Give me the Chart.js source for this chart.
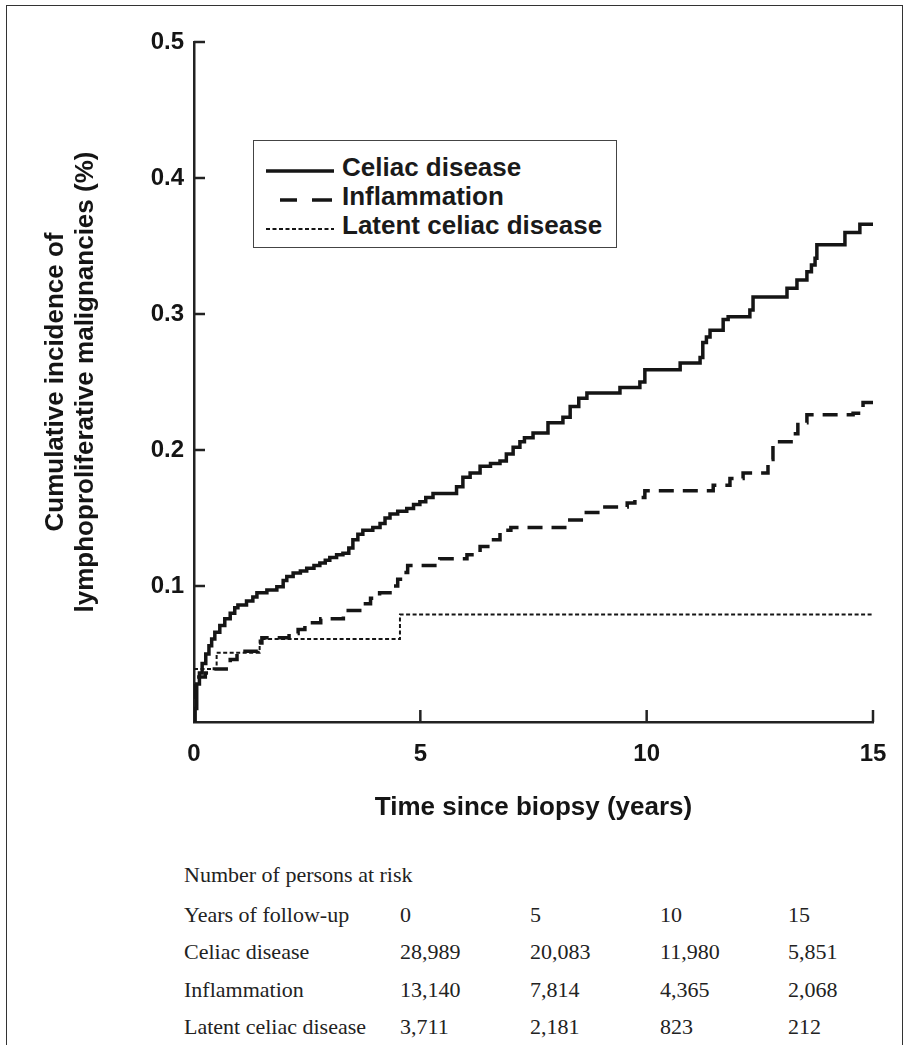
<!DOCTYPE html>
<html>
<head>
<meta charset="utf-8">
<script src="https://cdn.jsdelivr.net/npm/chart.js@4.4.1/dist/chart.umd.min.js"></script>
<style>
  html, body { margin: 0; padding: 0; background: #fff; }
  body { width: 910px; height: 1045px; position: relative; overflow: hidden; }
  #frame { position: absolute; left: 6px; top: 5px; width: 897px; height: 1100px; border: 1.5px solid #333; box-sizing: border-box; }
  #chart { position: absolute; left: 0; top: 0; }
  #legend { position: absolute; left: 253px; top: 140px; width: 364px; height: 108px; border: 1.5px solid #444; box-sizing: border-box; background: #fff; }
  .lg { position: absolute; left: 88px; font: bold 26px "Liberation Sans", Arial, sans-serif; color: #1a1a1a; line-height: 30px; white-space: nowrap; }
  .ls { position: absolute; left: 12px; }
  .tb { position: absolute; font: 22px "Liberation Serif", "Times New Roman", serif; color: #222; line-height: 26px; white-space: nowrap; }
</style>
</head>
<body>
<div id="frame"></div>
<canvas id="chart" width="910" height="850"></canvas>
<div id="legend"></div>
<div id="table"></div>
<script>
// ---- Data ----
const seriesNames = ['Celiac disease', 'Inflammation', 'Latent celiac disease'];

const celiacTime = [0, 0.02, 0.06, 0.12, 0.18, 0.26, 0.33, 0.39, 0.46, 0.57, 0.68, 0.80, 0.90, 0.97, 1.16, 1.30, 1.39, 1.61, 1.83, 1.97, 2.05, 2.19, 2.35, 2.49, 2.65, 2.78, 2.90, 3.00, 3.15, 3.29, 3.42, 3.51, 3.62, 3.73, 3.95, 4.11, 4.22, 4.33, 4.50, 4.70, 4.85, 4.99, 5.12, 5.28, 5.80, 5.94, 6.10, 6.32, 6.55, 6.76, 6.90, 7.05, 7.20, 7.30, 7.49, 7.82, 8.15, 8.31, 8.50, 8.68, 9.41, 9.85, 9.96, 10.74, 11.18, 11.24, 11.32, 11.40, 11.69, 11.80, 12.28, 12.35, 13.10, 13.32, 13.54, 13.64, 13.72, 13.76, 14.38, 14.71, 15.0];
const celiacIncidence = [0, 0.010, 0.028, 0.036, 0.043, 0.050, 0.056, 0.061, 0.066, 0.071, 0.076, 0.080, 0.084, 0.086, 0.089, 0.092, 0.095, 0.097, 0.0995, 0.104, 0.107, 0.1095, 0.111, 0.113, 0.115, 0.117, 0.119, 0.121, 0.123, 0.124, 0.128, 0.134, 0.138, 0.141, 0.143, 0.146, 0.150, 0.153, 0.155, 0.157, 0.160, 0.162, 0.165, 0.168, 0.173, 0.180, 0.183, 0.188, 0.190, 0.192, 0.197, 0.202, 0.206, 0.209, 0.2125, 0.220, 0.224, 0.232, 0.238, 0.242, 0.246, 0.250, 0.259, 0.264, 0.268, 0.279, 0.283, 0.288, 0.296, 0.298, 0.303, 0.3125, 0.319, 0.325, 0.331, 0.336, 0.341, 0.351, 0.360, 0.366, 0.366];

const inflamTime = [0, 0.02, 0.25, 0.45, 0.80, 0.95, 1.41, 1.50, 2.10, 2.30, 2.45, 2.80, 3.30, 3.73, 3.90, 4.10, 4.33, 4.50, 4.60, 4.72, 5.43, 6.03, 6.32, 6.54, 6.76, 7.00, 8.24, 8.60, 8.97, 9.57, 9.74, 9.96, 11.47, 11.84, 12.13, 12.68, 12.79, 13.23, 13.34, 13.54, 14.56, 14.78, 15.0];
const inflamIncidence = [0, 0.033, 0.036, 0.039, 0.046, 0.052, 0.058, 0.062, 0.065, 0.068, 0.073, 0.076, 0.082, 0.087, 0.091, 0.095, 0.100, 0.105, 0.110, 0.115, 0.120, 0.123, 0.129, 0.134, 0.141, 0.143, 0.1485, 0.154, 0.158, 0.161, 0.165, 0.170, 0.174, 0.179, 0.183, 0.193, 0.206, 0.212, 0.220, 0.226, 0.227, 0.235, 0.235];

const latentTime = [0, 0.50, 1.45, 4.55, 15.0];
const latentIncidence = [0.039, 0.051, 0.061, 0.079, 0.079];

const xTicks = [0, 5, 10, 15];
const yTicks = [0.1, 0.2, 0.3, 0.4, 0.5];

// Number at risk table
const tableTitle = 'Number of persons at risk';
const tableHeader = 'Years of follow-up';
const followUpYears = ['0', '5', '10', '15'];
const atRiskCeliac = ['28,989', '20,083', '11,980', '5,851'];
const atRiskInflammation = ['13,140', '7,814', '4,365', '2,068'];
const atRiskLatent = ['3,711', '2,181', '823', '212'];

// ---- Build ----
const toPts = (xs, ys) => xs.map((x, i) => ({ x: x, y: ys[i] }));
const INK = '#151515';

const inwardTicks = {
  id: 'inwardTicks',
  afterDatasetsDraw(chart) {
    const { ctx, chartArea, scales } = chart;
    ctx.save();
    ctx.strokeStyle = '#222';
    ctx.lineWidth = 2.5;
    yTicks.forEach(v => {
      const y = scales.y.getPixelForValue(v);
      ctx.beginPath(); ctx.moveTo(chartArea.left, y); ctx.lineTo(chartArea.left + 11, y); ctx.stroke();
    });
    xTicks.filter(v => v > 0).forEach(v => {
      const x = scales.x.getPixelForValue(v);
      ctx.beginPath(); ctx.moveTo(x, chartArea.bottom); ctx.lineTo(x, chartArea.bottom - 12); ctx.stroke();
    });
    ctx.restore();
  }
};

// stepped 'before': horizontal run at the previous value, then the jump at the event time
new Chart(document.getElementById('chart'), {
  type: 'line',
  data: {
    datasets: [
      { label: seriesNames[0], data: toPts(celiacTime, celiacIncidence), borderColor: INK, borderWidth: 3.5, stepped: 'before', pointRadius: 0, fill: false },
      { label: seriesNames[1], data: toPts(inflamTime, inflamIncidence), borderColor: INK, borderWidth: 3.5, borderDash: [15, 9], stepped: 'before', pointRadius: 0, fill: false },
      { label: seriesNames[2], data: toPts(latentTime, latentIncidence), borderColor: INK, borderWidth: 2, borderDash: [4, 2.5], stepped: 'before', pointRadius: 0, fill: false }
    ]
  },
  options: {
    responsive: false,
    animation: false,
    layout: { padding: { left: 0, right: 37, top: 42, bottom: 0 } },
    plugins: { legend: { display: false }, tooltip: { enabled: false } },
    scales: {
      x: {
        type: 'linear', min: 0, max: 15,
        afterFit(s) { s.height = 128; },
        afterBuildTicks(s) { s.ticks = xTicks.map(v => ({ value: v })); },
        grid: { display: false, drawTicks: false },
        border: { display: true, color: '#222', width: 2.5 },
        ticks: { padding: 18, color: INK, font: { family: 'Liberation Sans', size: 24, weight: 'bold' }, callback: v => String(v) },
        title: { display: true, text: 'Time since biopsy (years)', color: INK, font: { family: 'Liberation Sans', size: 26, weight: 'bold', lineHeight: 1.15 }, padding: { top: 0, bottom: 27 } }
      },
      y: {
        type: 'linear', min: 0, max: 0.5,
        afterFit(s) { s.width = 194; },
        afterBuildTicks(s) { s.ticks = [0].concat(yTicks).map(v => ({ value: v })); },
        grid: { display: false, drawTicks: false },
        border: { display: true, color: '#222', width: 2.5 },
        ticks: { padding: 10, color: INK, font: { family: 'Liberation Sans', size: 24, weight: 'bold' }, callback: v => (v === 0 ? '' : Number(v).toFixed(1)) },
        title: { display: true, text: ['Cumulative incidence of', 'lymphoproliferative malignancies (%)'], color: INK, font: { family: 'Liberation Sans', size: 26, weight: 'bold', lineHeight: 1.15 }, padding: { top: 41, bottom: 0 } }
      }
    }
  },
  plugins: [inwardTicks]
});

// ---- Legend (HTML) ----
const legend = document.getElementById('legend');
const legendRows = [
  { top: 11, name: seriesNames[0], svg: '<line x1="0" y1="5" x2="68" y2="5" stroke="#151515" stroke-width="3.5"/>' },
  { top: 40, name: seriesNames[1], svg: '<line x1="14" y1="5" x2="31" y2="5" stroke="#151515" stroke-width="3.5"/><line x1="46" y1="5" x2="66" y2="5" stroke="#151515" stroke-width="3.5"/>' },
  { top: 69, name: seriesNames[2], svg: '<line x1="0" y1="5" x2="68" y2="5" stroke="#151515" stroke-width="2" stroke-dasharray="4 2.5"/>' }
];
legendRows.forEach(r => {
  const s = document.createElement('div');
  s.className = 'ls';
  s.style.top = (r.top + 10) + 'px';
  s.innerHTML = '<svg width="70" height="10">' + r.svg + '</svg>';
  legend.appendChild(s);
  const t = document.createElement('div');
  t.className = 'lg';
  t.style.top = r.top + 'px';
  t.textContent = r.name;
  legend.appendChild(t);
});

// ---- Number at risk table (HTML) ----
const table = document.getElementById('table');
const colX = [400, 530, 660, 788];
const rowY = [875, 915, 952, 990, 1027];
function put(text, x, yc) {
  const d = document.createElement('div');
  d.className = 'tb';
  d.style.left = x + 'px';
  d.style.top = (yc - 13) + 'px';
  d.textContent = text;
  table.appendChild(d);
}
put(tableTitle, 184, rowY[0]);
const rows = [[tableHeader, followUpYears], [seriesNames[0], atRiskCeliac], [seriesNames[1], atRiskInflammation], [seriesNames[2], atRiskLatent]];
rows.forEach((r, i) => {
  put(r[0], 184, rowY[i + 1]);
  r[1].forEach((v, j) => put(v, colX[j], rowY[i + 1]));
});
</script>
</body>
</html>
